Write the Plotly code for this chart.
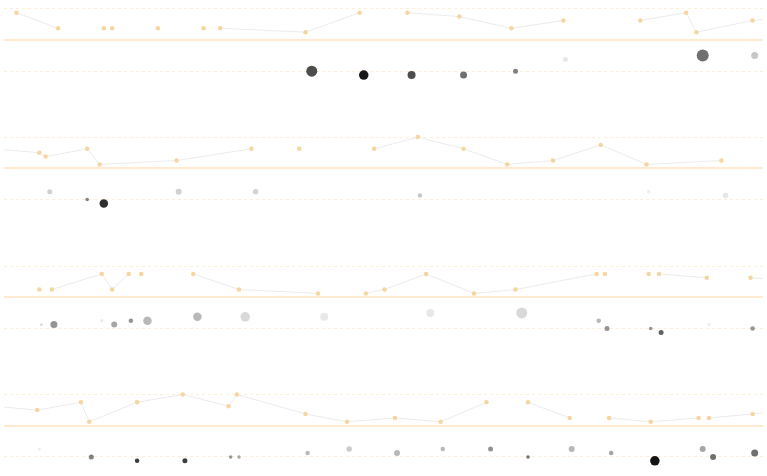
import plotly.graph_objects as go

# ---- data (x = day index, y = score) ----
r1_days = [6, 26, 48, 52, 74, 96, 104, 145, 171, 194, 219, 244, 269, 306, 328, 333, 360, 380]
r1_vals = [7, 3, 3, 3, 3, 3, 3, 2, 7, 7, 6, 3, 5, 5, 7, 2, 5, 6]
r1_e_days = [148, 173, 196, 221, 246, 270, 336, 361]
r1_e_vals = [-8, -9, -9, -9, -8, -5, -4, -4]
r1_e_mag = [11, 9.5, 8, 7, 5, 5, 12, 7]
r1_e_int = [0.7, 0.9, 0.7, 0.56, 0.5, 0.09, 0.56, 0.22]

r2_days = [-5, 17, 20, 40, 46, 83, 119, 142, 178, 199, 221, 242, 264, 287, 309, 345]
r2_vals = [5, 4, 3, 5, 1, 2, 5, 5, 5, 8, 5, 1, 2, 6, 1, 2]
r2_e_days = [22, 40, 48, 84, 121, 200, 310, 347]
r2_e_vals = [-6, -8, -9, -6, -6, -7, -6, -7]
r2_e_mag = [5, 3.5, 8.5, 6, 5.5, 4.5, 3.5, 5.5]
r2_e_int = [0.18, 0.5, 0.82, 0.18, 0.17, 0.22, 0.07, 0.09]

r3_days = [17, 23, 47, 52, 60, 66, 91, 113, 151, 174, 183, 203, 226, 246, 285, 289, 310, 315, 338, 359, 385]
r3_vals = [2, 2, 6, 2, 6, 6, 6, 2, 1, 1, 2, 6, 1, 2, 6, 6, 6, 6, 5, 5, 4]
r3_e_days = [18, 24, 47, 53, 61, 69, 93, 116, 154, 205, 249, 286, 290, 311, 316, 339, 360]
r3_e_vals = [-7, -7, -6, -7, -6, -6, -5, -5, -5, -4, -4, -6, -8, -8, -9, -7, -8]
r3_e_mag = [3, 7, 3.5, 6, 4.5, 8.5, 8.5, 9.5, 8, 8, 11, 4.5, 5, 3.5, 5, 3, 4.5]
r3_e_int = [0.13, 0.42, 0.07, 0.35, 0.42, 0.28, 0.28, 0.15, 0.09, 0.09, 0.15, 0.28, 0.42, 0.42, 0.62, 0.07, 0.42]

r4_days = [-5, 16, 37, 41, 64, 86, 108, 112, 145, 165, 188, 210, 232, 252, 272, 291, 311, 334, 339, 360, 380]
r4_vals = [5, 4, 6, 1, 6, 8, 5, 8, 3, 1, 2, 1, 6, 6, 2, 2, 1, 2, 2, 3, 4]
r4_e_days = [17, 42, 64, 87, 109, 113, 146, 166, 189, 211, 234, 252, 273, 292, 313, 336, 341, 361]
r4_e_vals = [-6, -8, -9, -9, -8, -8, -7, -6, -7, -6, -6, -8, -6, -7, -9, -6, -8, -7]
r4_e_mag = [3, 5, 4.5, 5, 3.5, 3.5, 4.5, 5.5, 6, 4.5, 5, 3.5, 6, 4.5, 9.5, 6, 6, 7]
r4_e_int = [0.07, 0.5, 0.76, 0.76, 0.42, 0.35, 0.28, 0.2, 0.28, 0.28, 0.42, 0.56, 0.28, 0.35, 0.92, 0.35, 0.56, 0.56]

gridlines = [-8, 8]

rows = [
    (r1_days, r1_vals, r1_e_days, r1_e_vals, r1_e_mag, r1_e_int),
    (r2_days, r2_vals, r2_e_days, r2_e_vals, r2_e_mag, r2_e_int),
    (r3_days, r3_vals, r3_e_days, r3_e_vals, r3_e_mag, r3_e_int),
    (r4_days, r4_vals, r4_e_days, r4_e_vals, r4_e_mag, r4_e_int),
]


def sloped_segments(xs, ys):
    """Connector line: only segments between points of differing value are drawn."""
    ox, oy = [], []
    for k in range(len(xs) - 1):
        if ys[k] != ys[k + 1]:
            ox += [xs[k], xs[k + 1], None]
            oy += [ys[k], ys[k + 1], None]
    return ox, oy


# ---- layout ----
W, H = 767, 476
zero_px = [40, 168.3, 297.3, 425.7]
YR = 10
unit = 3.9
half = YR * unit

fig = go.Figure()
layout = dict(
    width=W, height=H,
    margin=dict(l=4, r=4, t=0, b=0),
    paper_bgcolor="white", plot_bgcolor="white",
    showlegend=False,
)

for i, (d, v, ed, ev, em, ei) in enumerate(rows):
    n = i + 1
    xa = "x" if n == 1 else f"x{n}"
    ya = "y" if n == 1 else f"y{n}"
    lx, ly = sloped_segments(d, v)
    fig.add_trace(go.Scatter(x=lx, y=ly, mode="lines", xaxis=xa, yaxis=ya,
                             connectgaps=False,
                             line=dict(color="#ececec", width=1), hoverinfo="skip"))
    fig.add_trace(go.Scatter(x=d, y=v, mode="markers", xaxis=xa, yaxis=ya,
                             marker=dict(color="#f6d6a0", size=4.5, line=dict(width=0))))
    fig.add_trace(go.Scatter(x=ed, y=ev, mode="markers", xaxis=xa, yaxis=ya,
                             cliponaxis=False,
                             marker=dict(size=em, color=ei, cmin=0, cmax=1, opacity=1,
                                         colorscale=[[0, "#ffffff"], [1, "#000000"]],
                                         line=dict(width=0))))
    z = zero_px[i]
    dom = [1 - (z + half) / H, 1 - (z - half) / H]
    layout["xaxis" if n == 1 else f"xaxis{n}"] = dict(
        range=[0, 365], showgrid=False, zeroline=False, showticklabels=False,
        showline=False, anchor=ya, domain=[0, 1])
    layout["yaxis" if n == 1 else f"yaxis{n}"] = dict(
        range=[-YR, YR], domain=dom, anchor=xa,
        tickvals=gridlines, showticklabels=False, ticks="",
        showgrid=True, gridcolor="#fdeed6", gridwidth=1, griddash="3px,3px",
        zeroline=True, zerolinecolor="#fdead0", zerolinewidth=1.5,
        showline=False)

fig.update_layout(**layout)
fig.write_html("out.html")
